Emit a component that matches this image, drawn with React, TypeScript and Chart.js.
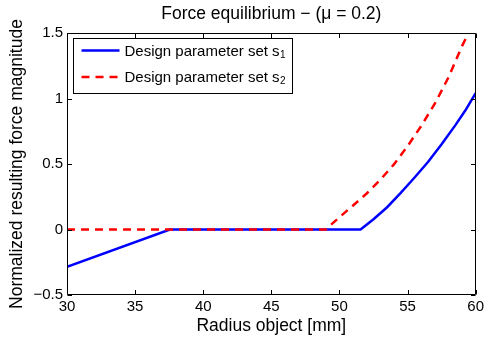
import { useEffect, useRef } from "react";
import { Chart, registerables } from "chart.js";

Chart.register(...registerables);

const FONT = '"Liberation Sans", Arial, Helvetica, sans-serif';

const TITLE = "Force equilibrium − (μ = 0.2)";
const X_LABEL = "Radius object [mm]";
const Y_LABEL = "Normalized resulting force magnitude";

const xTicks = [30, 35, 40, 45, 50, 55, 60];
const yTicks = [-0.5, 0, 0.5, 1, 1.5];

// Design parameter set s1
const radiusS1 = [30, 37.55, 51.55, 52.5, 53.5, 54.5, 55.5, 56.5, 57.5, 58.5, 59.25, 60];
const forceS1 = [-0.285, 0, 0, 0.078, 0.17, 0.28, 0.395, 0.515, 0.65, 0.795, 0.91, 1.04];

// Design parameter set s2
const radiusS2 = [30, 49, 50, 51, 52, 53, 54, 55, 56, 57, 58, 59, 60];
const forceS2 = [0, 0, 0.094, 0.183, 0.275, 0.38, 0.497, 0.636, 0.79, 0.96, 1.16, 1.4, 1.61];

const legendLabels = ["Design parameter set s", "Design parameter set s"];
const legendSubscripts = ["1", "2"];

const fmt = (v: number) => (v < 0 ? "−" + Math.abs(v) : String(v));

// Axes box with inward tick marks on all four sides
const framePlugin = {
  id: "frame",
  afterDatasetsDraw(chart: any) {
    const { ctx, chartArea: a, scales } = chart;
    const L = Math.round(a.left) + 0.5;
    const R = Math.round(a.right) - 0.5;
    const T = Math.round(a.top) + 0.5;
    const B = Math.round(a.bottom) - 0.5;
    const len = 4.5;
    ctx.save();
    ctx.strokeStyle = "#000";
    ctx.lineWidth = 1;
    ctx.beginPath();
    ctx.rect(L, T, R - L, B - T);
    for (const v of xTicks) {
      const px = Math.round(scales.x.getPixelForValue(v)) + 0.5;
      ctx.moveTo(px, B);
      ctx.lineTo(px, B - len);
      ctx.moveTo(px, T);
      ctx.lineTo(px, T + len);
    }
    for (const v of yTicks) {
      const py = Math.round(scales.y.getPixelForValue(v)) + 0.5;
      ctx.moveTo(L, py);
      ctx.lineTo(L + len, py);
      ctx.moveTo(R, py);
      ctx.lineTo(R - len, py);
    }
    ctx.stroke();
    ctx.restore();
  },
};

// Boxed legend in the upper-left corner with subscripted labels
const legendPlugin = {
  id: "boxLegend",
  afterDatasetsDraw(chart: any) {
    const { ctx, chartArea: a } = chart;
    const x0 = a.left + 6.5;
    const y0 = a.top + 5.5;
    const w = 219;
    const h = 55;
    ctx.save();
    ctx.fillStyle = "#fff";
    ctx.fillRect(x0, y0, w, h);
    ctx.strokeStyle = "#000";
    ctx.lineWidth = 1;
    ctx.strokeRect(x0, y0, w, h);
    const rows = [y0 + 12, y0 + 38.5];
    legendLabels.forEach((label, i) => {
      const ds = chart.data.datasets[i];
      const y = rows[i];
      ctx.strokeStyle = ds.borderColor;
      ctx.lineWidth = ds.borderWidth;
      ctx.setLineDash(ds.borderDash || []);
      ctx.beginPath();
      ctx.moveTo(x0 + 8, y);
      ctx.lineTo(x0 + 46, y);
      ctx.stroke();
      ctx.setLineDash([]);
      ctx.fillStyle = "#000";
      ctx.textBaseline = "alphabetic";
      ctx.textAlign = "left";
      ctx.font = `15px ${FONT}`;
      const tx = x0 + 51;
      const base = y + 5;
      ctx.fillText(label, tx, base);
      const tw = ctx.measureText(label).width;
      ctx.font = `10px ${FONT}`;
      ctx.fillText(legendSubscripts[i], tx + tw + 0.5, base + 2);
    });
    ctx.restore();
  },
};

// Title centred over the plotting area
const titlePlugin = {
  id: "axesTitle",
  afterDraw(chart: any) {
    const { ctx, chartArea: a } = chart;
    ctx.save();
    ctx.fillStyle = "#000";
    ctx.font = `17.5px ${FONT}`;
    ctx.textAlign = "center";
    ctx.textBaseline = "middle";
    ctx.fillText(TITLE, (a.left + a.right) / 2, 14);
    ctx.restore();
  },
};

export default function App() {
  const canvasRef = useRef<HTMLCanvasElement | null>(null);

  useEffect(() => {
    const canvas = canvasRef.current;
    if (!canvas) return;
    const chart = new Chart(canvas, {
      type: "line",
      data: {
        datasets: [
          {
            label: "s1",
            data: radiusS1.map((x, i) => ({ x, y: forceS1[i] })),
            borderColor: "#0000ff",
            borderWidth: 2.5,
            borderDash: [],
            pointRadius: 0,
            tension: 0,
            fill: false,
            order: 1,
          },
          {
            label: "s2",
            data: radiusS2.map((x, i) => ({ x, y: forceS2[i] })),
            borderColor: "#ff0000",
            borderWidth: 2.5,
            borderDash: [8, 6],
            pointRadius: 0,
            tension: 0,
            fill: false,
            order: 0,
          },
        ],
      },
      options: {
        responsive: false,
        animation: false,
        devicePixelRatio: 1,
        layout: { padding: { top: 33, right: 8, left: 0, bottom: 0 } },
        plugins: {
          legend: { display: false },
          tooltip: { enabled: false },
          title: { display: false },
        },
        scales: {
          x: {
            type: "linear",
            min: 30,
            max: 60,
            grid: { display: false, drawTicks: false },
            border: { display: false },
            afterBuildTicks: (s: any) => {
              s.ticks = xTicks.map((value) => ({ value }));
            },
            afterFit: (s: any) => {
              s.height = 49;
            },
            ticks: {
              color: "#000",
              font: { family: FONT, size: 15 },
              padding: 3,
              maxRotation: 0,
              autoSkip: false,
              callback: (v: any) => fmt(Number(v)),
            },
            title: {
              display: true,
              text: X_LABEL,
              color: "#000",
              font: { family: FONT, size: 17.5 },
              padding: { top: 0, bottom: 7.5 },
            },
          },
          y: {
            type: "linear",
            min: -0.5,
            max: 1.5,
            grid: { display: false, drawTicks: false },
            border: { display: false },
            afterBuildTicks: (s: any) => {
              s.ticks = yTicks.map((value) => ({ value }));
            },
            afterFit: (s: any) => {
              s.width = 67;
            },
            ticks: {
              color: "#000",
              font: { family: FONT, size: 15 },
              padding: 4,
              autoSkip: false,
              callback: (v: any) => fmt(Number(v)),
            },
            title: {
              display: true,
              text: Y_LABEL,
              color: "#000",
              font: { family: FONT, size: 17.5 },
              padding: { top: 7, bottom: 0 },
            },
          },
        },
      },
      plugins: [framePlugin, legendPlugin, titlePlugin],
    } as any);
    return () => chart.destroy();
  }, []);

  return (
    <div style={{ position: "absolute", left: 0, top: 0, width: 487, height: 344, background: "#fff" }}>
      <canvas ref={canvasRef} width={487} height={344} style={{ display: "block" }} />
    </div>
  );
}
